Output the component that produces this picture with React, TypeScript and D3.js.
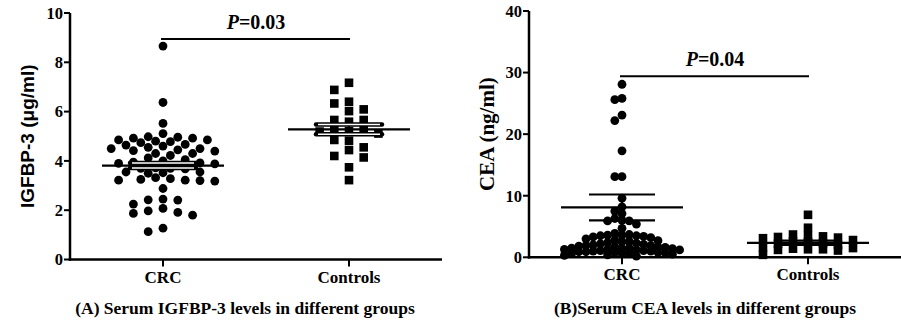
import React from "react";
import * as d3 from "d3";

const categories = ["CRC", "Controls"];

const igfCRC = [
  8.66, 6.37, 5.52, 5.11, 4.98, 4.92, 4.92, 4.96, 4.85, 4.8, 4.85, 4.78, 4.74, 4.67,
  4.64, 4.6, 4.55, 4.5, 4.45, 4.5, 4.42, 4.4, 4.3, 4.3, 4.22, 4.12, 4.05, 4.0, 3.92,
  3.9, 3.88, 3.95, 3.72, 3.7, 3.7, 3.68, 3.55, 3.5, 3.52, 3.55, 3.28, 3.22, 3.2, 3.18,
  3.25, 3.22, 3.32, 2.88, 2.45, 2.42, 2.41, 2.25, 2.07, 1.97, 1.91, 1.87, 1.8, 1.27, 1.13,
];
const igfControls = [
  7.17, 6.88, 6.33, 6.4, 6.09, 6.02, 5.66, 5.59, 5.66, 5.25, 5.11, 5.25, 5.19, 5.21,
  4.85, 4.82, 4.55, 4.2, 4.14, 4.44, 3.74, 3.22,
];
const ceaCRC = [
  28.1, 25.8, 25.6, 23.1, 22.2, 17.3, 13.1, 13.1, 9.6, 8.2, 7.5, 7.1, 6.3, 6.0, 5.9, 5.9,
  5.4, 4.7, 3.9, 3.7, 3.6, 3.6, 3.5, 3.5, 3.4, 3.3, 3.2, 3.0, 2.8, 2.7, 2.6, 2.5, 2.4,
  2.3, 2.2, 2.1, 2.0, 1.9, 1.9, 1.8, 1.7, 1.6, 1.6, 1.5, 1.5, 1.4, 1.4, 1.3, 1.3, 1.2,
  1.2, 1.1, 1.1, 1.0, 1.0, 0.9, 0.9, 0.8, 0.8, 0.7, 0.7, 0.6, 0.6, 0.5, 0.4, 0.3, 0.2,
];
const ceaControls = [
  6.9, 4.8, 3.7, 3.5, 3.4, 3.3, 3.2, 3.1, 2.8, 2.6, 2.5, 2.3, 2.2, 2.0, 1.6, 1.5, 1.4,
  1.3, 1.3, 1.2, 1.1, 0.4,
];

const igfMean = [3.81, 5.28];
const igfSEM = [0.1, 0.2];
const ceaMean = [8.1, 2.35];
const ceaSEM = [2.1, 0.35];

const igfTicks = [0, 2, 4, 6, 8, 10];
const ceaTicks = [0, 10, 20, 30, 40];

const pValues = ["0.03", "0.04"];
const sigLevels = [8.95, 29.4];

const SERIF = "'Liberation Serif', 'Times New Roman', serif";
const SANS = "'Liberation Sans', Arial, sans-serif";

type Pt = { x: number; y: number; v: number };

function swarm(
  vals: number[],
  y: (v: number) => number,
  cx: number,
  step: number,
  minD: number,
  maxOff: number
): Pt[] {
  const order = vals.map((_, i) => i).sort((a, b) => vals[b] - vals[a]);
  const placed: { x: number; y: number }[] = [];
  const out: Pt[] = new Array(vals.length);
  const kmax = Math.floor(maxOff / step);
  for (const i of order) {
    const py = y(vals[i]);
    let best = cx;
    let bestD = -1;
    for (let j = 0; j <= 2 * kmax; j++) {
      const k = j === 0 ? 0 : j % 2 ? -Math.ceil(j / 2) : j / 2;
      const px = cx + k * step;
      let dmin = Infinity;
      for (const p of placed) {
        const d = Math.hypot(p.x - px, p.y - py);
        if (d < dmin) dmin = d;
      }
      if (dmin >= minD) {
        best = px;
        bestD = dmin;
        break;
      }
      if (dmin > bestD) {
        bestD = dmin;
        best = px;
      }
    }
    placed.push({ x: best, y: py });
    out[i] = { x: best, y: py, v: vals[i] };
  }
  return out;
}

type PanelProps = {
  x0: number;
  x1: number;
  yTop: number;
  yBottom: number;
  ticks: number[];
  crc: number[];
  ctrl: number[];
  means: number[];
  sems: number[];
  pText: string;
  sig: number;
  yLabel: string;
  yLabelFont: string;
  yLabelSize: number;
  yLabelX: number;
  caption: string;
  capX: number;
  crcSwarm: [number, number, number];
  ctrlSwarm: [number, number, number];
  whiteCaps: boolean;
};

function Panel(p: PanelProps) {
  const y = d3
    .scaleLinear()
    .domain([0, p.ticks[p.ticks.length - 1]])
    .range([p.yBottom, p.yTop]);
  const x = d3.scalePoint<string>().domain(categories).range([p.x0, p.x1]).padding(0.5);
  const cCRC = x("CRC") as number;
  const cCtrl = x("Controls") as number;
  const ptsCRC = swarm(p.crc, y, cCRC, p.crcSwarm[0], p.crcSwarm[1], p.crcSwarm[2]);
  const ptsCtrl = swarm(p.ctrl, y, cCtrl, p.ctrlSwarm[0], p.ctrlSwarm[1], p.ctrlSwarm[2]);
  const sq = 8.6;
  const meanHalf = 61;
  const capHalf = 33;
  const centers = [cCRC, cCtrl];
  const midY = (p.yTop + p.yBottom) / 2;
  return (
    <g>
      {ptsCRC.map((d, i) => (
        <circle key={"c" + i} cx={d.x} cy={d.y} r={4.4} fill="#000" />
      ))}
      {ptsCtrl.map((d, i) => (
        <rect key={"s" + i} x={d.x - sq / 2} y={d.y - sq / 2} width={sq} height={sq} fill="#000" />
      ))}
      {centers.map((c, i) => {
        const m = y(p.means[i]);
        const hi = y(p.means[i] + p.sems[i]);
        const lo = y(p.means[i] - p.sems[i]);
        return (
          <g key={"m" + i}>
            <line x1={c} x2={c} y1={hi} y2={lo} stroke="#000" strokeWidth={2} />
            {p.whiteCaps ? (
              <>
                <line x1={c - capHalf} x2={c + capHalf} y1={hi} y2={hi} stroke="#000" strokeWidth={4.5} strokeLinecap="round" />
                <line x1={c - capHalf} x2={c + capHalf} y1={lo} y2={lo} stroke="#000" strokeWidth={4.5} strokeLinecap="round" />
                <line x1={c - capHalf + 2} x2={c + capHalf - 2} y1={hi} y2={hi} stroke="#fff" strokeWidth={1.5} />
                <line x1={c - capHalf + 2} x2={c + capHalf - 2} y1={lo} y2={lo} stroke="#fff" strokeWidth={1.5} />
              </>
            ) : (
              <>
                <line x1={c - capHalf} x2={c + capHalf} y1={hi} y2={hi} stroke="#000" strokeWidth={2.2} />
                <line x1={c - capHalf} x2={c + capHalf} y1={lo} y2={lo} stroke="#000" strokeWidth={2.2} />
              </>
            )}
            <line x1={c - meanHalf} x2={c + meanHalf} y1={m} y2={m} stroke="#000" strokeWidth={2.2} />
          </g>
        );
      })}
      <line x1={cCRC - 2} x2={cCtrl + 1} y1={y(p.sig)} y2={y(p.sig)} stroke="#000" strokeWidth={2} />
      <text
        x={(cCRC + cCtrl) / 2}
        y={y(p.sig) - 10}
        textAnchor="middle"
        fontFamily={SERIF}
        fontWeight="bold"
        fontSize={20}
      >
        <tspan fontStyle="italic">P</tspan>={p.pText}
      </text>
      <line x1={p.x0} x2={p.x0} y1={p.yTop} y2={p.yBottom + 1.2} stroke="#000" strokeWidth={2.5} />
      <line x1={p.x0 - 1.2} x2={p.x1} y1={p.yBottom} y2={p.yBottom} stroke="#000" strokeWidth={2.5} />
      {p.ticks.map((t) => (
        <g key={"t" + t}>
          <line x1={p.x0 - 6} x2={p.x0} y1={y(t)} y2={y(t)} stroke="#000" strokeWidth={2} />
          <text
            x={p.x0 - 7}
            y={y(t)}
            dy="0.35em"
            textAnchor="end"
            fontFamily={SERIF}
            fontWeight="bold"
            fontSize={16.5}
          >
            {t}
          </text>
        </g>
      ))}
      {categories.map((c) => (
        <g key={"x" + c}>
          <line x1={x(c)} x2={x(c)} y1={p.yBottom} y2={p.yBottom + 7} stroke="#000" strokeWidth={2} />
          <text
            x={x(c)}
            y={p.yBottom + 23}
            textAnchor="middle"
            fontFamily={SERIF}
            fontWeight="bold"
            fontSize={17}
          >
            {c}
          </text>
        </g>
      ))}
      <text
        transform={`translate(${p.yLabelX},${midY}) rotate(-90)`}
        textAnchor="middle"
        dy="0.35em"
        fontFamily={p.yLabelFont}
        fontWeight="bold"
        fontSize={p.yLabelSize}
      >
        {p.yLabel}
      </text>
      <text
        x={p.capX}
        y={314}
        textAnchor="middle"
        fontFamily={SERIF}
        fontWeight="bold"
        fontSize={17.5}
      >
        {p.caption}
      </text>
    </g>
  );
}

export default function App() {
  return (
    <svg
      width={901}
      height={322}
      viewBox="0 0 901 322"
      style={{ position: "absolute", left: 0, top: 0, background: "#fff" }}
    >
      <rect width={901} height={322} fill="#fff" />
      <Panel
        x0={70}
        x1={442}
        yTop={13}
        yBottom={259.5}
        ticks={igfTicks}
        crc={igfCRC}
        ctrl={igfControls}
        means={igfMean}
        sems={igfSEM}
        pText={pValues[0]}
        sig={sigLevels[0]}
        yLabel="IGFBP-3 (μg/ml)"
        yLabelFont={SANS}
        yLabelSize={19}
        yLabelX={27}
        caption="(A) Serum IGFBP-3 levels in different groups"
        capX={245}
        crcSwarm={[7.4, 8.6, 54]}
        ctrlSwarm={[14.7, 9, 30]}
        whiteCaps={true}
      />
      <Panel
        x0={529}
        x1={901}
        yTop={11}
        yBottom={257.3}
        ticks={ceaTicks}
        crc={ceaCRC}
        ctrl={ceaControls}
        means={ceaMean}
        sems={ceaSEM}
        pText={pValues[1]}
        sig={sigLevels[1]}
        yLabel="CEA (ng/ml)"
        yLabelFont={SERIF}
        yLabelSize={21}
        yLabelX={487}
        caption="(B)Serum CEA levels in different groups"
        capX={705}
        crcSwarm={[7.2, 6.5, 62]}
        ctrlSwarm={[15, 7.5, 46]}
        whiteCaps={false}
      />
    </svg>
  );
}
